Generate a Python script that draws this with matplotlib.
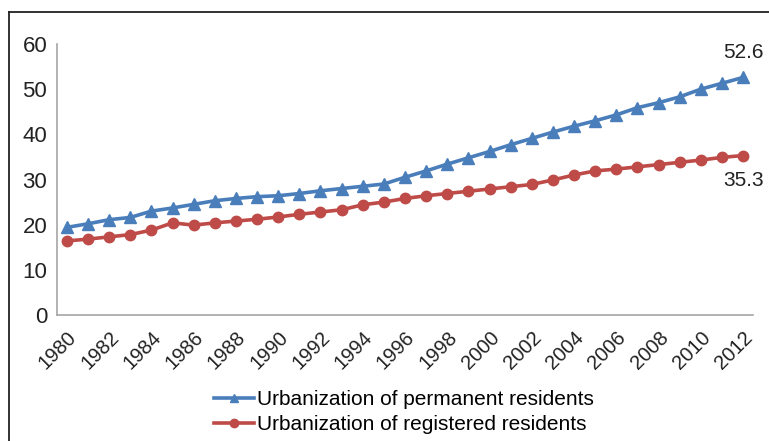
import matplotlib
matplotlib.use("Agg")
import matplotlib.pyplot as plt
from matplotlib.lines import Line2D

plt.rcParams['font.family'] = ['Liberation Sans', 'DejaVu Sans']

years = list(range(1980, 2013))
permanent = [19.4, 20.2, 21.1, 21.6, 23.0, 23.7, 24.5, 25.3, 25.8, 26.2, 26.4,
             26.9, 27.5, 28.0, 28.5, 29.0, 30.5, 31.9, 33.4, 34.8, 36.2, 37.7,
             39.1, 40.5, 41.8, 43.0, 44.3, 45.9, 47.0, 48.3, 50.0, 51.3, 52.6]
registered = [16.4, 16.8, 17.3, 17.8, 18.8, 20.4, 19.9, 20.4, 20.8, 21.2, 21.7,
              22.3, 22.8, 23.3, 24.4, 25.0, 25.8, 26.4, 26.9, 27.4, 27.9, 28.4,
              28.9, 29.9, 31.0, 31.9, 32.3, 32.8, 33.3, 33.8, 34.3, 34.9, 35.3]
xtick_labels = [str(y) for y in range(1980, 2013, 2)]
yticks = [0, 10, 20, 30, 40, 50, 60]
series_names = ["Urbanization of permanent residents",
                "Urbanization of registered residents"]

blue = "#4A7EBB"
red = "#BE4B48"

fig = plt.figure(figsize=(7.69, 4.41), dpi=100)
fig.patch.set_facecolor("white")
ax = fig.add_axes([57/769, 1-315/441, (753-57)/769, (315-44)/441])

l1, = ax.plot(years, permanent, color=blue, lw=2.6, marker="^", ms=8,
              label=series_names[0])
l2, = ax.plot(years, registered, color=red, lw=2.6, marker="o", ms=7.5,
              label=series_names[1])

ax.set_xlim(years[0] - 0.47, years[-1] + 0.47)
ax.set_ylim(0, 60)
ax.set_yticks(yticks)
ax.set_xticks(list(range(1980, 2013, 2)))
ax.set_xticklabels(xtick_labels, rotation=45, ha="right", rotation_mode="anchor")
ax.tick_params(axis="both", length=0, colors="#222222")
ax.tick_params(axis="y", pad=7, labelsize=16)
ax.tick_params(axis="x", pad=9, labelsize=14.5)
for s in ["top", "right"]:
    ax.spines[s].set_visible(False)
for s in ["left", "bottom"]:
    ax.spines[s].set_color("#A6A6A6")
    ax.spines[s].set_linewidth(1.2)

ax.annotate(f"{permanent[-1]:.1f}", (years[-1], permanent[-1]),
            xytext=(0, 18), textcoords="offset points", ha="center",
            va="center", fontsize=15, color="#222222", annotation_clip=False)
ax.annotate(f"{registered[-1]:.1f}", (years[-1], registered[-1]),
            xytext=(0, -18), textcoords="offset points", ha="center",
            va="center", fontsize=15, color="#222222", annotation_clip=False)

fig.legend(handles=[l1, l2], loc="center", bbox_to_anchor=(404/769, 1-412/441),
           frameon=False, fontsize=15, handlelength=1.9, handletextpad=0.15,
           labelspacing=0.3, markerscale=0.8, borderpad=0.2)

# outer frame
fig.add_artist(Line2D([9/769, 9/769], [0, 1-12/441], transform=fig.transFigure,
                      color="#222222", lw=1.3))
fig.add_artist(Line2D([9/769, 1], [1-12/441, 1-12/441], transform=fig.transFigure,
                      color="#222222", lw=1.3))

fig.savefig("out.png", dpi=100)
